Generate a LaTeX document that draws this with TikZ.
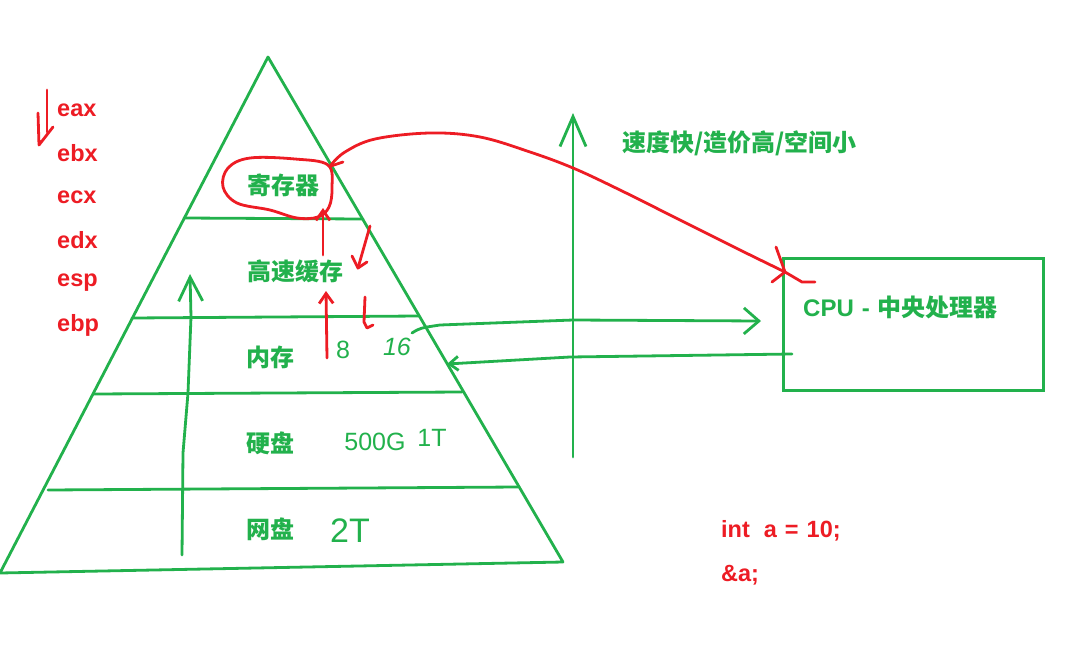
\documentclass[tikz,border=0pt]{standalone}
\usepackage{fontspec}
\newfontfamily\cjk{Noto Sans CJK SC}
\newfontfamily\lat{Liberation Sans}
\usetikzlibrary{arrows.meta}
\definecolor{pgreen}{RGB}{34,177,76}
\definecolor{pred}{RGB}{237,28,36}
\tikzset{
  gline/.style={draw=pgreen, line width=2.8pt, line cap=round, line join=round},
  rline/.style={draw=pred, line width=2.8pt, line cap=round, line join=round},
  lbl/.style={text=pgreen, font=\cjk\bfseries\fontsize{24}{27}\selectfont, inner sep=0pt},
  reglbl/.style={text=pred, font=\lat\bfseries\fontsize{23.5}{27}\selectfont, anchor=west, inner sep=0pt},
  codelbl/.style={text=pred, font=\lat\bfseries\fontsize{23.5}{27}\selectfont, anchor=west, inner sep=0pt},
  hand/.style={text=pgreen, font=\lat\fontsize{25}{28}\selectfont, inner sep=0pt},
  bigbarb/.style={-{Straight Barb[length=24pt,width=24pt]}},
  smallbarb/.style={-{Straight Barb[length=9pt,width=14pt]}}
}
\begin{document}
\begin{tikzpicture}[x=1pt,y=-1pt]
\useasboundingbox[fill=white] (0,0) rectangle (1080,670);

% pyramid
\coordinate (apex) at (268,57);
\coordinate (bl) at (0,573);
\coordinate (br) at (563,562);
\draw[gline] (bl) -- (apex) -- (br) -- cycle;
\coordinate (l1a) at (184,218); \coordinate (l1b) at (363,219);
\coordinate (l2a) at (132,318); \coordinate (l2b) at (419,316);
\coordinate (l3a) at (93,394);  \coordinate (l3b) at (462,392);
\coordinate (l4a) at (48,490);  \coordinate (l4b) at (518,487);
\draw[gline] (l1a) -- (l1b);
\draw[gline] (l2a) -- (l2b);
\draw[gline] (l3a) -- (l3b);
\draw[gline] (l4a) -- (l4b);

% level labels
\node[lbl] (reg) at (283,185) {寄存器};
\node[lbl] (cache) at (295,271) {高速缓存};
\node[lbl] (mem) at (270,357) {内存};
\node[lbl] (disk) at (270,443) {硬盘};
\node[lbl] (net) at (270,529) {网盘};

% handwritten sizes
\node[hand] (m8) at (343,350) {8};
\node[hand, font=\lat\itshape\fontsize{25}{28}\selectfont] (m16) at (397,347) {16};
\node[hand] (d500) at (375,442) {500G};
\node[hand] (d1t) at (432,438) {1T};
\node[hand, font=\lat\fontsize{34}{38}\selectfont] (n2t) at (350,531) {2T};

% registers
\node[reglbl] (eax) at (57,110) {eax};
\node[reglbl] (ebx) at (57,153) {ebx};
\node[reglbl] (ecx) at (57,197) {ecx};
\node[reglbl] (edx) at (57,240) {edx};
\node[reglbl] (esp) at (57,283) {esp};
\node[reglbl] (ebp) at (57,325) {ebp};
\coordinate (ea1) at (47,90);  \coordinate (ea2) at (47,132);
\coordinate (ea3) at (38,113); \coordinate (ea4) at (39,145); \coordinate (ea5) at (53,127);
\draw[rline] (ea1) -- (ea2);
\draw[rline] (ea3) -- (ea4) -- (ea5);

% speed text
\node[lbl, anchor=west] (speed) at (622,143) {速度快/造价高/空间小};

% CPU
\node[draw=pgreen, line width=2.8pt, minimum width=260pt, minimum height=132pt, anchor=north west, inner sep=0pt] (cpu) at (782,257) {};
\node[lbl, anchor=west] (cputext) at (803,307) {{\lat\bfseries CPU\hspace{8pt}-\hspace{8pt}}中央处理器};

% code
\node[codelbl] (code1) at (721,531) {int\hspace{14pt}a\hspace{8pt}=\hspace{8pt}10;};
\node[codelbl] (code2) at (721,575) {\&a;};

% green vertical arrows
\coordinate (pa0) at (182,555);
\coordinate (pa1) at (183,453);
\coordinate (pa2) at (188,393);
\coordinate (pa3) at (191,317);
\coordinate (pa4) at (190,274);
\draw[gline, bigbarb] (pa0) -- (pa1) -- (pa2) -- (pa3) -- (pa4);
\coordinate (sa0) at (573,457);
\coordinate (sa1) at (573,113);
\draw[gline, -{Straight Barb[length=30pt,width=26pt]}] (sa0) -- (sa1);

% memory <-> CPU arrows
\coordinate (mc0) at (412,333);
\coordinate (mc1) at (440,325);
\coordinate (mc2) at (573,320);
\coordinate (mc3) at (761,321);
\draw[gline, -{Straight Barb[length=15pt,width=26pt]}] (mc0) .. controls (420,328) .. (mc1) -- (mc2) -- (mc3);
\coordinate (cm0) at (792,354);
\coordinate (cm1) at (570,357);
\coordinate (cm2) at (447,364);
\draw[gline, smallbarb] (cm0) -- (cm1) -- (cm2);

% red loop around register
\draw[rline] plot[smooth cycle, tension=0.6] coordinates {(328,165) (295,159) (250,158) (228,168) (223,187) (237,203) (270,210) (297,218) (318,217) (329,207) (332,188)};

% red up arrows
\coordinate (ra0) at (323,255); \coordinate (ra1) at (323,208);
\draw[rline, -{Straight Barb[length=10pt,width=14pt]}] (ra0) -- (ra1);
\coordinate (rb0) at (327,358); \coordinate (rb1) at (326,291);
\draw[rline, -{Straight Barb[length=10pt,width=14pt]}] (rb0) -- (rb1);

% red down marks
\coordinate (rc0) at (370,226); \coordinate (rc1) at (358,268);
\coordinate (rc2) at (352,256); \coordinate (rc3) at (367,262);
\draw[rline] (rc0) -- (rc1);
\draw[rline] (rc2) -- (rc1) -- (rc3);
\coordinate (rd0) at (365,297); \coordinate (rd1) at (364,322);
\coordinate (rd2) at (367,328); \coordinate (rd3) at (373,325);
\draw[rline] (rd0) -- (rd1) -- (rd2) -- (rd3);

% red curve register -> CPU
\coordinate (rs) at (331,165);
\coordinate (re) at (785,272);
\draw[rline] plot[smooth, tension=0.6] coordinates {(rs) (345,152) (375,139) (430,133) (480,137) (530,152) (573,168) (620,190) (680,220) (740,250) (re)};
\coordinate (rt0) at (331,166); \coordinate (rt1) at (343,162);
\draw[rline] (rt0) -- (rt1);
\coordinate (rx0) at (776,247);
\coordinate (rx1) at (772,282); \coordinate (rx2) at (802,282); \coordinate (rx3) at (815,282);
\draw[rline] (rx0) -- (re);
\draw[rline] (rx1) -- (re) -- (rx2) -- (rx3);
\end{tikzpicture}
\end{document}
